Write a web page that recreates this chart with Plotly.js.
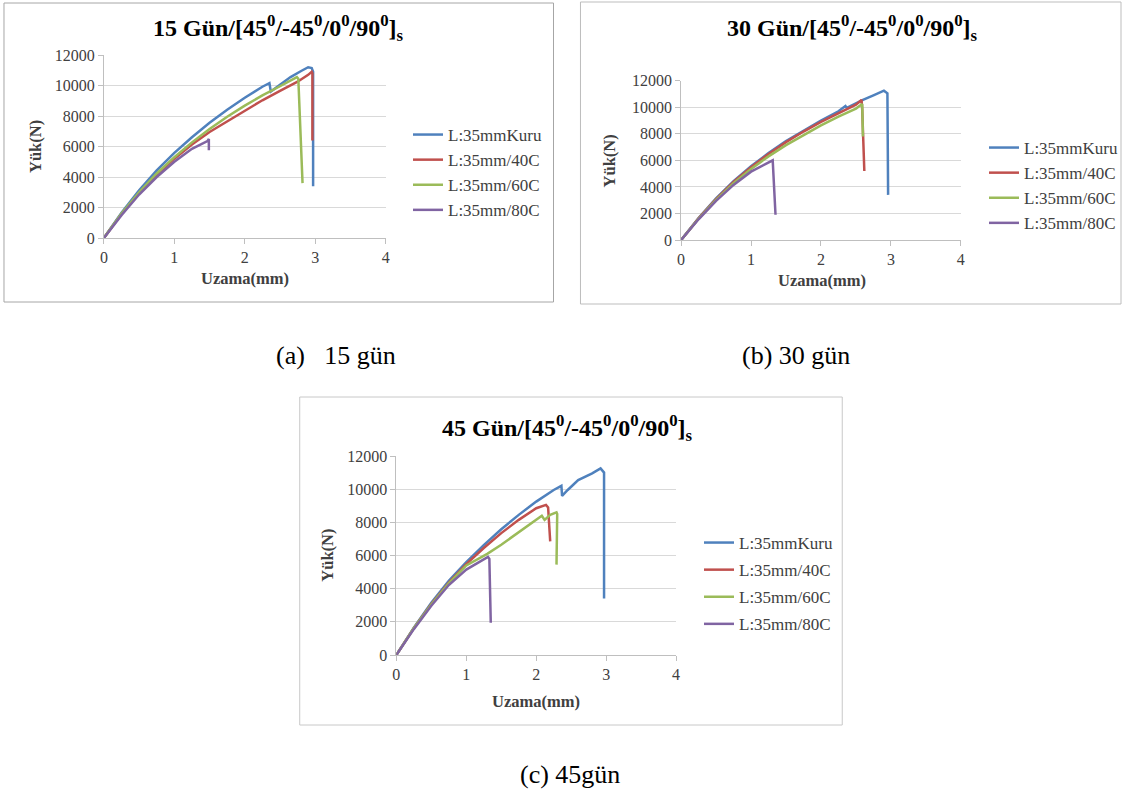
<!DOCTYPE html>
<html>
<head>
<meta charset="utf-8">
<script src="https://cdn.plot.ly/plotly-3.0.1.min.js"></script>
<style>html,body{margin:0;padding:0;background:#fff;}#chart{width:1123px;height:798px;}</style>
</head>
<body>
<div id="chart"></div>
<script>
// ---- Data ----
const seriesNames = ["L:35mmKuru", "L:35mm/40C", "L:35mm/60C", "L:35mm/80C"];
const xTicks = [0, 1, 2, 3, 4];
const yTicks = [0, 2000, 4000, 6000, 8000, 10000, 12000];
const yTickText = ["0", "2000", "4000", "6000", "8000", "10000", "12000"];

// (a) 15 gün
const a_kuru_x = [0, 0.25, 0.5, 0.75, 1.0, 1.25, 1.5, 1.75, 2.0, 2.25, 2.35, 2.37, 2.5, 2.65, 2.8, 2.9, 2.95, 2.97, 2.97];
const a_kuru_y = [0, 1650, 3130, 4430, 5580, 6610, 7550, 8410, 9200, 9920, 10150, 9600, 10050, 10550, 10950, 11200, 11150, 10900, 3400];
const a_40_x = [0, 0.25, 0.5, 0.75, 1.0, 1.25, 1.5, 1.75, 2.0, 2.25, 2.5, 2.75, 2.9, 2.95, 2.96, 2.96];
const a_40_y = [0, 1580, 2950, 4150, 5200, 6130, 6950, 7650, 8350, 9030, 9650, 10250, 10700, 10900, 10800, 6400];
const a_60_x = [0, 0.25, 0.5, 0.75, 1.0, 1.25, 1.5, 1.75, 2.0, 2.25, 2.5, 2.74, 2.76, 2.79, 2.82];
const a_60_y = [0, 1600, 3000, 4230, 5300, 6270, 7150, 7950, 8680, 9350, 9950, 10550, 10450, 7000, 3600];
const a_80_x = [0, 0.25, 0.5, 0.75, 1.0, 1.25, 1.47, 1.49, 1.49];
const a_80_y = [0, 1500, 2850, 4000, 5000, 5850, 6350, 6500, 5750];

// (b) 30 gün
const b_kuru_x = [0, 0.25, 0.5, 0.75, 1.0, 1.25, 1.5, 1.75, 2.0, 2.25, 2.35, 2.37, 2.5, 2.6, 2.75, 2.9, 2.95, 2.96];
const b_kuru_y = [0, 1650, 3130, 4430, 5550, 6550, 7450, 8250, 9000, 9700, 10100, 9950, 10300, 10550, 10900, 11250, 11050, 3400];
const b_40_x = [0, 0.25, 0.5, 0.75, 1.0, 1.25, 1.5, 1.75, 2.0, 2.25, 2.5, 2.58, 2.59, 2.62];
const b_40_y = [0, 1630, 3080, 4370, 5480, 6480, 7370, 8170, 8900, 9580, 10200, 10550, 9800, 5200];
const b_60_x = [0, 0.25, 0.5, 0.75, 1.0, 1.25, 1.5, 1.75, 2.0, 2.25, 2.5, 2.59, 2.6];
const b_60_y = [0, 1600, 3020, 4280, 5350, 6300, 7150, 7920, 8630, 9300, 9900, 10250, 7800];
const b_80_x = [0, 0.25, 0.5, 0.75, 1.0, 1.25, 1.31, 1.35];
const b_80_y = [0, 1560, 2950, 4150, 5150, 5850, 6000, 1900];

// (c) 45 gün
const c_kuru_x = [0, 0.25, 0.5, 0.75, 1.0, 1.25, 1.5, 1.75, 2.0, 2.25, 2.36, 2.37, 2.45, 2.6, 2.8, 2.92, 2.97, 2.97];
const c_kuru_y = [0, 1650, 3150, 4470, 5600, 6630, 7580, 8450, 9250, 9950, 10200, 9600, 9950, 10550, 10950, 11250, 11000, 3400];
const c_40_x = [0, 0.25, 0.5, 0.75, 1.0, 1.25, 1.5, 1.75, 2.0, 2.14, 2.17, 2.2];
const c_40_y = [0, 1620, 3080, 4370, 5480, 6450, 7350, 8150, 8850, 9050, 8900, 6850];
const c_60_x = [0, 0.25, 0.5, 0.75, 1.0, 1.3, 1.5, 1.75, 2.0, 2.08, 2.12, 2.2, 2.29, 2.3, 2.29];
const c_60_y = [0, 1610, 3050, 4320, 5400, 6100, 6650, 7400, 8150, 8400, 8150, 8450, 8600, 8500, 5450];
const c_80_x = [0, 0.25, 0.5, 0.75, 1.0, 1.25, 1.31, 1.33, 1.35];
const c_80_y = [0, 1560, 2970, 4220, 5150, 5780, 5920, 5800, 1950];

const colors = ["#4F81BD", "#C0504D", "#9BBB59", "#8064A2"];

// ---- Layout helpers (pixel -> paper) ----
const W = 1123, H = 798;
const px = v => v / W;
const py = v => 1 - v / H;
const serif = "Liberation Serif";

const panels = [
  {ax: "", series: [[a_kuru_x, a_kuru_y], [a_40_x, a_40_y], [a_60_x, a_60_y], [a_80_x, a_80_y]],
   x0: 104, x1: 386, yb: 238, yt: 55, legend: "legend", lx: 408, ly: 117, gap: 0},
  {ax: "2", series: [[b_kuru_x, b_kuru_y], [b_40_x, b_40_y], [b_60_x, b_60_y], [b_80_x, b_80_y]],
   x0: 681.7, x1: 961.7, yb: 240, yt: 80.7, legend: "legend2", lx: 985, ly: 130, gap: 0},
  {ax: "3", series: [[c_kuru_x, c_kuru_y], [c_40_x, c_40_y], [c_60_x, c_60_y], [c_80_x, c_80_y]],
   x0: 396.7, x1: 676.7, yb: 655, yt: 456, legend: "legend3", lx: 699, ly: 525, gap: 2}
];

const traces = [];
const layout = {
  width: W, height: H,
  margin: {l: 0, r: 0, t: 0, b: 0},
  font: {family: serif, color: "#404040"},
  paper_bgcolor: "#ffffff",
  plot_bgcolor: "rgba(0,0,0,0)",
  showlegend: true,
  annotations: [],
  shapes: []
};

panels.forEach((p, pi) => {
  p.series.forEach((s, si) => {
    traces.push({
      type: "scatter", mode: "lines",
      x: s[0], y: s[1],
      name: seriesNames[si],
      xaxis: "x" + p.ax, yaxis: "y" + p.ax,
      legend: p.legend,
      legendgroup: "g" + pi + "_" + si,
      line: {color: colors[si], width: 2.5},
      hoverinfo: "x+y+name"
    });
  });
  const tf = {family: serif, size: 16, color: "#404040"};
  layout["xaxis" + p.ax] = {
    domain: [px(p.x0), px(p.x1)], range: [0, 4], tickmode: "array", tickvals: xTicks,
    anchor: "y" + p.ax, showgrid: false, zeroline: false, showline: true,
    linecolor: "#bfbfbf", linewidth: 1, ticks: "outside", ticklen: 5, tickcolor: "#bfbfbf",
    tickfont: tf, fixedrange: true
  };
  layout["yaxis" + p.ax] = {
    domain: [py(p.yb), py(p.yt)], range: [0, 12000], tickmode: "array",
    tickvals: yTicks, ticktext: yTickText,
    anchor: "x" + p.ax, showgrid: true, gridcolor: "#d9d9d9", gridwidth: 1,
    zeroline: false, showline: true, linecolor: "#bfbfbf", linewidth: 1,
    ticks: "outside", ticklen: 5, tickcolor: "#bfbfbf",
    tickfont: tf, fixedrange: true
  };
  layout[p.legend] = {
    x: px(p.lx), y: py(p.ly), xanchor: "left", yanchor: "top",
    font: {family: serif, size: 17, color: "#404040"},
    bgcolor: "rgba(0,0,0,0)", traceorder: "grouped", tracegroupgap: p.gap, itemwidth: 30
  };
});

// Frames
layout.shapes.push(
  {type: "rect", xref: "paper", yref: "paper", x0: px(4), x1: px(554), y0: py(302), y1: py(3),
   line: {color: "#a6a6a6", width: 1}, fillcolor: "rgba(0,0,0,0)", layer: "below"},
  {type: "rect", xref: "paper", yref: "paper", x0: px(581), x1: px(1122), y0: py(304), y1: py(2),
   line: {color: "#bdbdbd", width: 1}, fillcolor: "rgba(0,0,0,0)", layer: "below"},
  {type: "rect", xref: "paper", yref: "paper", x0: px(300), x1: px(843), y0: py(725), y1: py(397),
   line: {color: "#c8c8c8", width: 1}, fillcolor: "#ffffff", layer: "below"}
);

const titleFont = {family: serif, size: 24, color: "#000000"};
const labFont = {family: serif, size: 16.5, color: "#404040"};
function ann(text, x, y, font, extra) {
  layout.annotations.push(Object.assign({
    text: text, x: px(x), y: py(y), xref: "paper", yref: "paper",
    showarrow: false, xanchor: "center", yanchor: "middle", font: font
  }, extra || {}));
}
const ttl = d => "<b>" + d + " Gün/[45<sup>0</sup>/-45<sup>0</sup>/0<sup>0</sup>/90<sup>0</sup>]<sub>s</sub></b>";
ann(ttl(15), 279, 28, titleFont);
ann(ttl(30), 853, 28, titleFont);
ann(ttl(45), 568, 428, titleFont);

ann("<b>Yük(N)</b>", 36, 146, labFont, {textangle: -90});
ann("<b>Yük(N)</b>", 611, 161, labFont, {textangle: -90});
ann("<b>Yük(N)</b>", 327, 555, labFont, {textangle: -90});
ann("<b>Uzama(mm)</b>", 245, 278, labFont);
ann("<b>Uzama(mm)</b>", 823, 281, labFont);
ann("<b>Uzama(mm)</b>", 536, 701, labFont);

const capFont = {family: serif, size: 26, color: "#000000"};
ann("(a)&nbsp;&nbsp; 15 gün", 336, 355, capFont);
ann("(b) 30 gün", 797, 355, capFont);
ann("(c) 45gün", 571, 774, capFont);

Plotly.newPlot("chart", traces, layout, {displayModeBar: false});
</script>
</body>
</html>
